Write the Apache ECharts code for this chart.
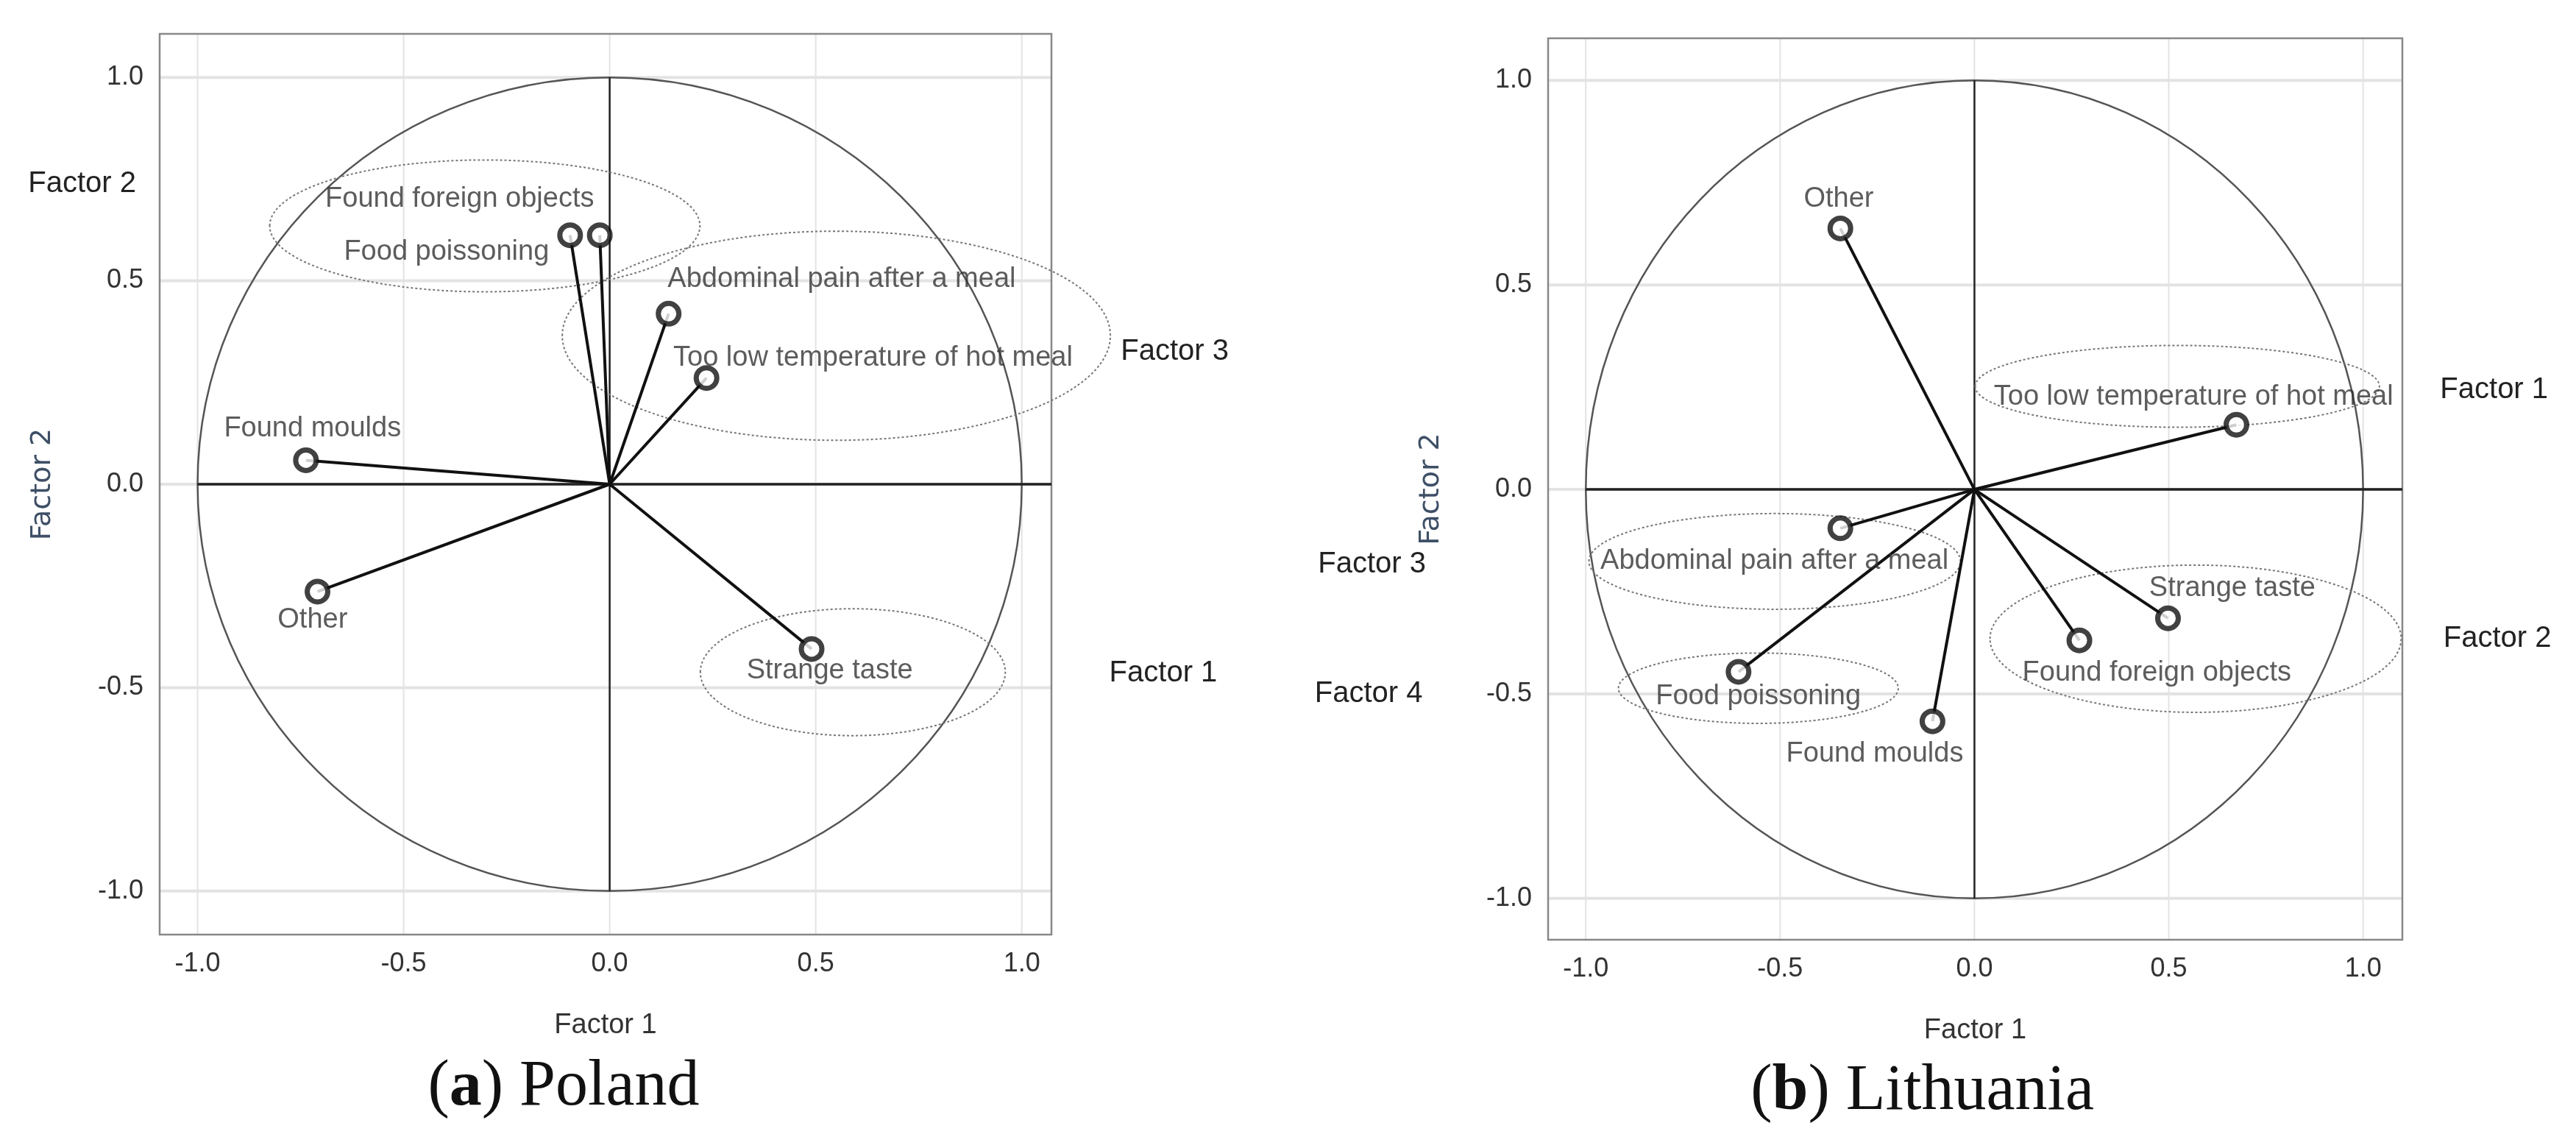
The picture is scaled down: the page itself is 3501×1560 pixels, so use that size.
<!DOCTYPE html>
<html><head><meta charset="utf-8">
<script src="https://cdn.jsdelivr.net/npm/echarts@6/dist/echarts.min.js"></script>
<style>html,body{margin:0;padding:0;background:#fff}#c{width:3501px;height:1560px}</style>
</head><body><div id="c"></div>
<script>
// ---- Data ----
const tickValues = [-1.0, -0.5, 0.0, 0.5, 1.0];
const polandNames = ['Found foreign objects','Food poissoning','Abdominal pain after a meal','Too low temperature of hot meal','Found moulds','Other','Strange taste'];
const polandF1 = [-0.024, -0.096, 0.143, 0.235, -0.737, -0.709, 0.49];
const polandF2 = [0.612, 0.612, 0.419, 0.261, 0.059, -0.264, -0.405];
// ellipses: [cx, cy, rx, ry]
const polandGroups = [[-0.303,0.635,0.522,0.162],[0.55,0.365,0.665,0.257],[0.59,-0.462,0.37,0.156]];
const lithNames = ['Other','Too low temperature of hot meal','Abdominal pain after a meal','Strange taste','Found foreign objects','Food poissoning','Found moulds'];
const lithF1 = [-0.345, 0.674, -0.345, 0.498, 0.27, -0.607, -0.108];
const lithF2 = [0.638, 0.158, -0.095, -0.315, -0.369, -0.446, -0.567];
const lithGroups = [[0.522,0.252,0.52,0.1],[-0.514,-0.176,0.478,0.117],[-0.556,-0.486,0.36,0.086],[0.569,-0.365,0.529,0.18]];

// ---- Styles (label offsets in px, display-scale) ----
const S = 2.24;
const polandOff = [[-85,-22],[-75,10],[105,-21],[101,-12],[4,-19],[-3,17],[11,13]];
const lithOff = [[-1,-18],[-26,-17],[-40,20],[39,-18],[47,20],[12,15],[-35,20]];

const chart = echarts.init(document.getElementById('c'));
const font = 'Liberation Sans, Arial, sans-serif';

function axes(idx, xr, yr, nameGapX, nameGapY) {
  const common = r => ({
    gridIndex: idx, type: 'value', min: r[0], max: r[1],
    axisLine: {show: false}, axisTick: {show: false}, splitLine: {show: false},
    axisLabel: {customValues: tickValues, fontSize: 36, color: '#333', fontFamily: font, margin: 22,
      formatter: v => v.toFixed(1)},
  });
  const x = common(xr), y = common(yr);
  x.name = 'Factor 1'; x.nameLocation = 'middle'; x.nameGap = nameGapX;
  x.nameTextStyle = {fontSize: 38, color: '#333', fontFamily: font};
  y.name = 'Factor 2'; y.nameLocation = 'middle'; y.nameGap = nameGapY;
  y.nameTextStyle = {fontSize: 38, color: '#3e4f66', fontFamily: 'DejaVu Sans'};
  return [x, y];
}

function seriesFor(idx, f1, f2, names, off, groups, hEnd) {
  const s = [];
  s.push({type: 'custom', xAxisIndex: idx, yAxisIndex: idx, silent: true, z: 1,
    data: [0],
    renderItem: (p, api) => {
      const ch = [];
      const cs = p.coordSys;
      tickValues.forEach(v => {
        const a = api.coord([v, 0]);
        ch.push({type: 'line', shape: {x1: a[0], y1: cs.y, x2: a[0], y2: cs.y + cs.height}, style: {stroke: '#e3e3e3', lineWidth: 2}});
        const c = api.coord([0, v]);
        ch.push({type: 'line', shape: {x1: cs.x, y1: c[1], x2: cs.x + cs.width, y2: c[1]}, style: {stroke: '#e3e3e3', lineWidth: 4}});
      });
      ch.push({type: 'rect', shape: {x: cs.x, y: cs.y, width: cs.width, height: cs.height}, style: {fill: 'none', stroke: '#888', lineWidth: 2.5}});
      const o = api.coord([0, 0]), e = api.coord([1, 1]);
      ch.push({type: 'ellipse', shape: {cx: o[0], cy: o[1], rx: e[0] - o[0], ry: o[1] - e[1]}, style: {fill: 'none', stroke: '#555', lineWidth: 2.5}});
      const l = api.coord([-1, 0]), r = api.coord([hEnd, 0]), t = api.coord([0, 1]), b = api.coord([0, -1]);
      ch.push({type: 'line', shape: {x1: l[0], y1: l[1], x2: r[0], y2: r[1]}, style: {stroke: '#222', lineWidth: 3.5}});
      ch.push({type: 'line', shape: {x1: t[0], y1: t[1], x2: b[0], y2: b[1]}, style: {stroke: '#222', lineWidth: 2.5}});
      return {type: 'group', children: ch};
    }});
  s.push({type: 'custom', xAxisIndex: idx, yAxisIndex: idx, silent: true, z: 2,
    data: groups,
    renderItem: (p, api) => {
      const c = api.coord([api.value(0), api.value(1)]);
      const e = api.coord([api.value(0) + api.value(2), api.value(1) + api.value(3)]);
      return {type: 'ellipse', shape: {cx: c[0], cy: c[1], rx: e[0] - c[0], ry: c[1] - e[1]},
        style: {fill: 'none', stroke: '#777', lineWidth: 2, lineDash: [3, 3]}};
    }});
  s.push({type: 'custom', xAxisIndex: idx, yAxisIndex: idx, silent: true, z: 3,
    data: f1.map((x, i) => [x, f2[i]]),
    renderItem: (p, api) => {
      const o = api.coord([0, 0]), a = api.coord([api.value(0), api.value(1)]);
      return {type: 'line', shape: {x1: o[0], y1: o[1], x2: a[0], y2: a[1]}, style: {stroke: '#111', lineWidth: 4}};
    }});
  s.push({type: 'scatter', xAxisIndex: idx, yAxisIndex: idx, z: 4,
    symbol: 'circle', symbolSize: 28,
    itemStyle: {color: '#fff', borderColor: '#111', borderWidth: 7},
    data: f1.map((x, i) => ({value: [x, f2[i]], label: {show: true, formatter: names[i],
      position: 'inside', offset: [off[i][0] * S, off[i][1] * S], fontSize: 38, color: '#333', fontFamily: font}}))
  });
  return s;
}

const gL = {left: 217, top: 46, width: 1212, height: 1224};
const gR = {left: 2104, top: 52, width: 1161, height: 1225};
const [xL, yL] = axes(0, [-1.092, 1.072], [-1.107, 1.107], 105, 140);
const [xR, yR] = axes(1, [-1.097, 1.101], [-1.101, 1.103], 105, 140);

const txt = (x, y, t) => ({type: 'text', x: x * 2.233, y: y,
  style: {text: t, fontSize: 40, fill: '#222', fontFamily: font, textAlign: 'center', textVerticalAlign: 'middle'}});
const cap = (x, y, b, rest) => ({type: 'text', x: x * 2.233, y: y,
  style: {rich: {b: {fontWeight: 'bold', fontSize: 88, fontFamily: 'Liberation Serif', fill: '#111'}},
    text: '({b|' + b + '}) ' + rest, fontSize: 88, fontFamily: 'Liberation Serif', fill: '#111', textAlign: 'center', textVerticalAlign: 'middle'}});

chart.setOption({
  animation: false,
  grid: [gL, gR],
  xAxis: [xL, xR],
  yAxis: [yL, yR],
  series: [
    ...seriesFor(0, polandF1, polandF2, polandNames, polandOff, polandGroups, 1.072),
    ...seriesFor(1, lithF1, lithF2, lithNames, lithOff, lithGroups, 1.101)
  ],
  graphic: [
    txt(50, 250, 'Factor 2'), txt(715, 478, 'Factor 3'), txt(708, 915, 'Factor 1'),
    txt(1518, 530, 'Factor 1'), txt(1520, 868, 'Factor 2'), txt(835, 767, 'Factor 3'), txt(833, 943, 'Factor 4'),
    cap(343, 1478, 'a', 'Poland'),
    cap(1170, 1484, 'b', 'Lithuania')
  ]
});
</script></body></html>
